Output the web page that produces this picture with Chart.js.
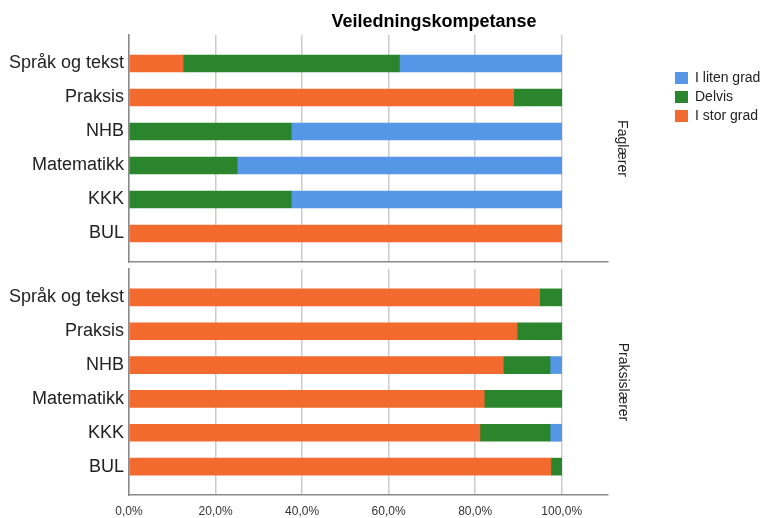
<!DOCTYPE html>
<html>
<head>
<meta charset="utf-8">
<script src="https://cdn.jsdelivr.net/npm/chart.js@4.4.1/dist/chart.umd.min.js"></script>
<style>
body { margin: 0; background: #fff; }
#wrap { position: relative; width: 766px; height: 518px; }
#top { position: absolute; left: 0; top: 0; width: 766px; height: 263px; }
#bottom { position: absolute; left: 0; top: 262px; width: 766px; height: 256px; }
</style>
</head>
<body>
<div id="wrap">
	<div id="top"><canvas id="chart_fag"></canvas></div>
	<div id="bottom"><canvas id="chart_prak"></canvas></div>
</div>
<script>
var categories = ['Språk og tekst', 'Praksis', 'NHB', 'Matematikk', 'KKK', 'BUL'];
var x_ticks = [0, 20, 40, 60, 80, 100];

// Faglærer (percent)
var fag_stor   = [12.5, 88.9, 0, 0, 0, 100];
var fag_delvis = [50, 11.1, 37.5, 25, 37.5, 0];
var fag_liten  = [37.5, 0, 62.5, 75, 62.5, 0];

// Praksislærer (percent)
var prak_stor   = [94.9, 89.7, 86.5, 82.1, 81.1, 97.5];
var prak_delvis = [5.1, 10.3, 10.8, 17.9, 16.2, 2.5];
var prak_liten  = [0, 0, 2.7, 0, 2.7, 0];

window.chartColors = {
		orange: '#f26a2e',
		green: '#2a852c',
		blue: '#5596e6'
};

Chart.defaults.font.family = "'Liberation Sans', Arial, sans-serif";
Chart.defaults.color = '#222';

// moves title / legend after layout so the plot area stays where it should
var nudge = {
	id: 'nudge',
	afterLayout: function(chart, args, opts) {
		if (chart.titleBlock && opts.titleDx) {
			chart.titleBlock.left += opts.titleDx;
			chart.titleBlock.right += opts.titleDx;
		}
		if (chart.legend && opts.legendAt) {
			var lg = chart.legend;
			lg.left = opts.legendAt[0]; lg.right = lg.left + 100;
			lg.top = opts.legendAt[1]; lg.bottom = lg.top + 100;
		}
	}
};

function pts(arr) {
	return arr.map(function(v, i) { return {x: v, y: i}; });
}

function render_panel(canvas_id, stor, delvis, liten, facet_name, is_top) {
	var ctx = document.getElementById(canvas_id).getContext('2d');
	return new Chart(ctx, {
	   type: 'bar',
	   data: {
	      datasets: [
	     	 {label: 'I stor grad', data: pts(stor), backgroundColor: window.chartColors.orange, borderWidth: 0, barThickness: 17},
	     	 {label: 'Delvis', data: pts(delvis), backgroundColor: window.chartColors.green, borderWidth: 0, barThickness: 17},
	     	 {label: 'I liten grad', data: pts(liten), backgroundColor: window.chartColors.blue, borderWidth: 0, barThickness: 17}
	      ]
	   },
	   plugins: [nudge],
	   options: {
	      indexAxis: 'y',
	      responsive: true,
	      maintainAspectRatio: false,
	      animation: false,
	      layout: {padding: is_top ? {bottom: 1} : {top: 7}},
	      scales: {
	         x: {
	            type: 'linear', stacked: true, min: 0, max: 110.7,
	            afterBuildTicks: function(s) { s.ticks = x_ticks.map(function(v) { return {value: v}; }); },
	            grid: {color: '#cccccc', lineWidth: 1.5, drawTicks: false},
	            border: {color: '#8a8a8a', width: 1.5},
	            ticks: {
	               display: !is_top, padding: 9, font: {size: 12}, color: '#333',
	               callback: function(v) { return v.toFixed(1).replace('.', ',') + '%'; }
	            },
	            afterFit: function(s) { s.height = is_top ? 0 : 23; }
	         },
	         y: {
	            type: 'linear', stacked: true, reverse: true, offset: false,
	            min: -0.838, max: categories.length - 1 + 0.838,
	            afterBuildTicks: function(s) { s.ticks = categories.map(function(c, i) { return {value: i}; }); },
	            grid: {display: false, drawTicks: false, offset: false},
	            border: {color: '#8a8a8a', width: 1.5},
	            ticks: {padding: 5, font: {size: 18}, color: '#222', callback: function(v) { return categories[v]; }},
	            afterFit: function(s) { s.width = 129; s.paddingTop = 0; s.paddingBottom = 0; }
	         },
	         facet: {
	            axis: 'y', type: 'linear', position: 'right', offset: false,
	            grid: {display: false, drawTicks: false},
	            border: {display: false},
	            ticks: {display: false},
	            title: {display: true, text: facet_name, font: {size: 14}, color: '#222', padding: {top: 135, bottom: 0}},
	            afterFit: function(s) { s.width = is_top ? 157 : 158; s.paddingTop = 0; s.paddingBottom = 0; }
	         }
	      },
	      plugins: {
	         title: {
	            display: is_top, text: 'Veiledningskompetanse', color: '#000',
	            font: {size: 18, weight: 'bold'}, padding: {top: 11, bottom: 2.4}
	         },
	         legend: {
	            display: is_top, position: 'right', align: 'start', reverse: true, maxWidth: 1,
	            labels: {boxWidth: 13, boxHeight: 12, padding: 5, font: {size: 14}, color: '#222'}
	         },
	         tooltip: {enabled: false},
	         nudge: {titleDx: 51, legendAt: [670, 66]}
	      }
	   }
	});
}

render_panel('chart_fag', fag_stor, fag_delvis, fag_liten, 'Faglærer', true);
render_panel('chart_prak', prak_stor, prak_delvis, prak_liten, 'Praksislærer', false);
</script>
</body>
</html>
